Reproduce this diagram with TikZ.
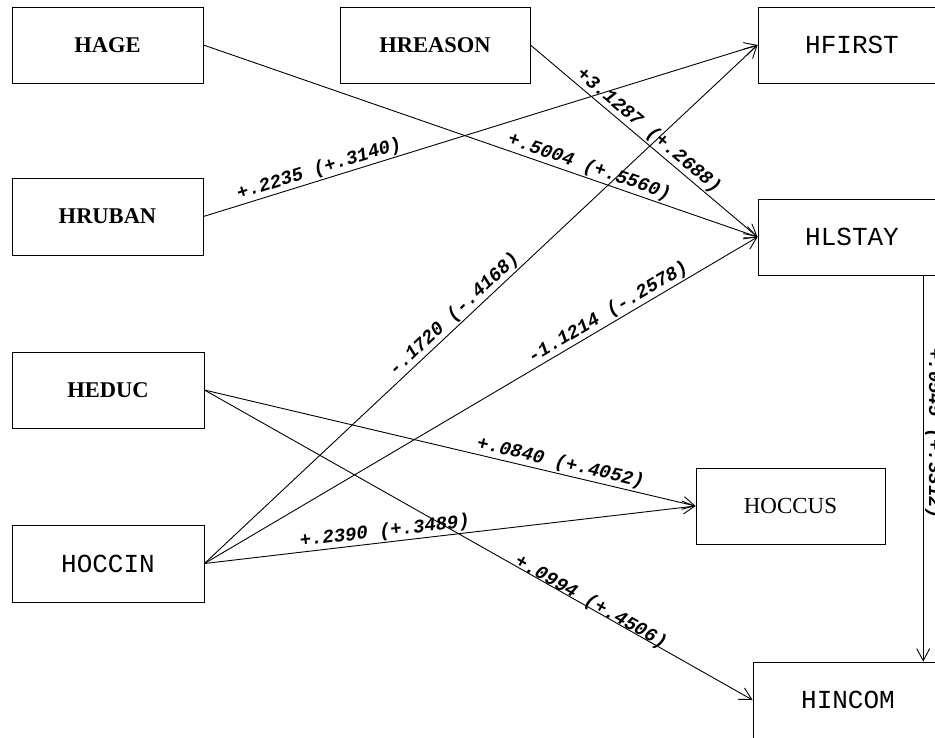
\documentclass[tikz,border=0pt]{standalone}
\usepackage{fontspec}
\usetikzlibrary{arrows.meta,calc}
\newfontfamily\boxmono{Liberation Mono}
\newfontfamily\boxserif{Liberation Serif}
\newfontfamily\labmono{Liberation Mono}

\tikzset{
  box/.style={draw, line width=0.9pt, inner sep=0pt, minimum width=191pt, minimum height=76pt},
  serifbox/.style={box, font=\boxserif\bfseries\fontsize{22.5}{24}\selectfont},
  plainserifbox/.style={box, font=\boxserif\fontsize{23}{25}\selectfont},
  monobox/.style={box, font=\boxmono\fontsize{26}{28}\selectfont},
  arr/.style={line width=0.9pt, -{Straight Barb[length=12pt,width=13pt]}},
  labfont/.style={font=\labmono\bfseries\itshape\fontsize{19}{21}\selectfont},
  lab/.style={labfont, sloped, above, inner sep=1.5pt},
}

\begin{document}
\begin{tikzpicture}[x=1pt, y=-1pt]
  \useasboundingbox (0,0) rectangle (935,737);
  \clip (0,0) rectangle (935,737);

  % variables
  \node[serifbox] (hage)    at (107.5,45)  {HAGE};
  \node[serifbox, minimum height=77pt] (hruban) at (107.5,216.5) {HRUBAN};
  \node[serifbox, minimum width=190pt] (hreason) at (435,45) {HREASON};
  \node[monobox, minimum width=188pt] (hfirst) at (852,45)  {HFIRST};
  \node[monobox, minimum width=188pt] (hlstay) at (852,237) {HLSTAY};
  \node[serifbox, minimum width=192pt] (heduc) at (108,390) {HEDUC};
  \node[monobox, minimum width=192pt, minimum height=77pt] (hoccin) at (108,563.5) {HOCCIN};
  \node[plainserifbox, minimum width=189pt] (hoccus) at (790.5,506) {HOCCUS};
  \node[monobox, minimum width=190pt] (hincom) at (848,700) {HINCOM};

  % paths
  \draw[arr] (hage.east) -- node[lab, pos=0.69] {+.5004 (+.5560)} (hlstay.west);
  \draw[arr] (hruban.east) -- node[lab, pos=0.215] {+.2235 (+.3140)} (hfirst.west);
  \draw[arr] (hreason.east) -- node[lab, pos=0.49] {+3.1287 (+.2688)} (hlstay.west);
  \draw[arr] (hoccin.east) -- node[lab, pos=0.465] {-.1720 (-.4168)} (hfirst.west);
  \draw[arr] (hoccin.east) -- node[lab, pos=0.74] {-1.1214 (-.2578)} (hlstay.west);
  \draw[arr] (hoccin.east) -- node[lab, pos=0.37] {+.2390 (+.3489)} (hoccus.west);
  \draw[arr] (heduc.east) -- node[lab, pos=0.72] {+.0840 (+.4052)} (hoccus.west);
  \draw[arr] (heduc.east) -- node[lab, pos=0.70, inner sep=-4pt] {+.0994 (+.4506)} (hincom.west);

  % HLSTAY -> HINCOM
  \coordinate (ls) at ($(hlstay.south west)!0.877!(hlstay.south east)$);
  \draw[arr] (ls) -- node[labfont, pos=0.41, rotate=-90, anchor=south, inner sep=1.5pt]
      {+.0545 (+.3312)} (ls |- hincom.north);
\end{tikzpicture}
\end{document}
